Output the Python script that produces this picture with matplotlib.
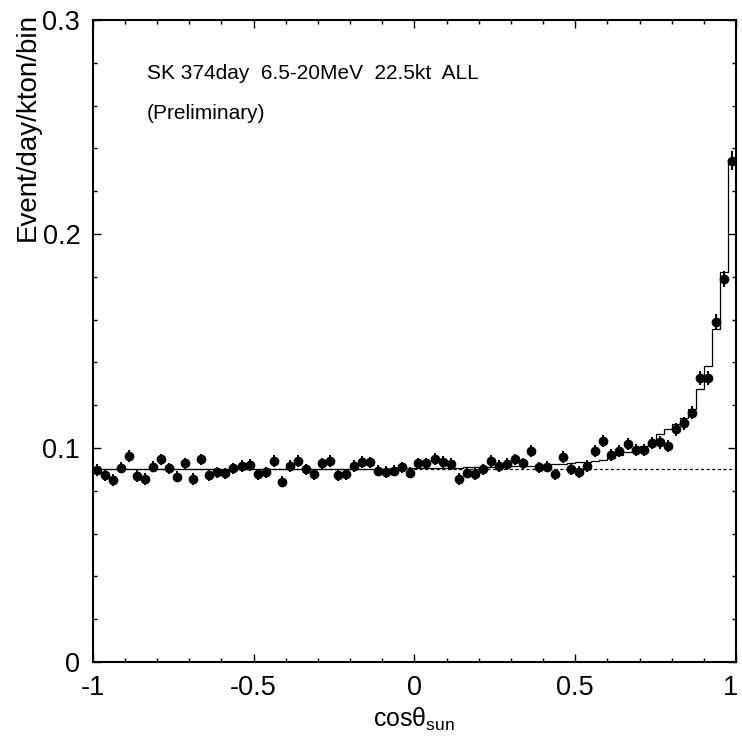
import matplotlib
matplotlib.use("Agg")
import matplotlib.pyplot as plt
import matplotlib.transforms as mtransforms
import numpy as np

plt.rcParams["font.family"] = ["Liberation Sans", "DejaVu Sans"]
plt.rcParams["axes.unicode_minus"] = False
plt.rcParams["mathtext.fontset"] = "custom"
plt.rcParams["mathtext.rm"] = "Liberation Sans"
plt.rcParams["mathtext.it"] = "Liberation Sans"

# 80 bins in cos(theta_sun), -1 .. 1
bin_edges = np.linspace(-1, 1, 81)
bin_centers = 0.5 * (bin_edges[:-1] + bin_edges[1:])

# observed event rate (event/day/kton/bin)
observed = [
    0.0897, 0.0874, 0.0850, 0.0908, 0.0963, 0.0869, 0.0855, 0.0913, 0.0947, 0.0905,
    0.0866, 0.0928, 0.0855, 0.0947, 0.0874, 0.0886, 0.0882, 0.0905, 0.0917, 0.0921,
    0.0877, 0.0886, 0.0939, 0.0843, 0.0916, 0.0939, 0.0900, 0.0877, 0.0928, 0.0939,
    0.0874, 0.0877, 0.0916, 0.0936, 0.0933, 0.0894, 0.0889, 0.0894, 0.0910, 0.0885,
    0.0928, 0.0928, 0.0949, 0.0936, 0.0925, 0.0855, 0.0885, 0.0879, 0.0900, 0.0939,
    0.0916, 0.0925, 0.0947, 0.0928, 0.0986, 0.0910, 0.0913, 0.0877, 0.0958, 0.0903,
    0.0889, 0.0916, 0.0988, 0.1034, 0.0967, 0.0987, 0.1019, 0.0991, 0.0991, 0.1024,
    0.1026, 0.1009, 0.1088, 0.1116, 0.1166, 0.1326, 0.1326, 0.1590, 0.1790, 0.2343,
]

errors = [
    0.0027, 0.0027, 0.0027, 0.0027, 0.0027, 0.0027, 0.0027, 0.0027, 0.0027, 0.0027,
    0.0027, 0.0027, 0.0027, 0.0027, 0.0027, 0.0027, 0.0027, 0.0027, 0.0027, 0.0027,
    0.0027, 0.0027, 0.0027, 0.0027, 0.0027, 0.0027, 0.0027, 0.0027, 0.0027, 0.0027,
    0.0027, 0.0027, 0.0027, 0.0027, 0.0027, 0.0027, 0.0027, 0.0027, 0.0027, 0.0027,
    0.0027, 0.0027, 0.0027, 0.0027, 0.0027, 0.0027, 0.0027, 0.0027, 0.0027, 0.0027,
    0.0027, 0.0027, 0.0027, 0.0027, 0.0027, 0.0027, 0.0027, 0.0027, 0.0027, 0.0027,
    0.0027, 0.0027, 0.0028, 0.0028, 0.0028, 0.0028, 0.0028, 0.0028, 0.0028, 0.0028,
    0.0029, 0.0029, 0.0030, 0.0030, 0.0030, 0.0032, 0.0032, 0.0035, 0.0038, 0.0046,
]

# expected (background + solar signal) histogram
expected = [
    0.0902, 0.0902, 0.0902, 0.0902, 0.0902, 0.0902, 0.0902, 0.0902, 0.0902, 0.0902,
    0.0902, 0.0902, 0.0902, 0.0902, 0.0902, 0.0902, 0.0902, 0.0902, 0.0902, 0.0902,
    0.0902, 0.0902, 0.0902, 0.0902, 0.0902, 0.0902, 0.0902, 0.0902, 0.0902, 0.0902,
    0.0902, 0.0902, 0.0903, 0.0903, 0.0903, 0.0904, 0.0904, 0.0905, 0.0905, 0.0906,
    0.0906, 0.0907, 0.0907, 0.0908, 0.0909, 0.0909, 0.0910, 0.0911, 0.0912, 0.0913,
    0.0914, 0.0915, 0.0916, 0.0917, 0.0918, 0.0919, 0.0921, 0.0924, 0.0927, 0.0930,
    0.0933, 0.0936, 0.0940, 0.0946, 0.0955, 0.0967, 0.0983, 0.0994, 0.1009, 0.1030,
    0.1065, 0.1087, 0.1111, 0.1139, 0.1181, 0.1274, 0.1383, 0.1555, 0.1824, 0.2350,
]

background = 0.0902

fig = plt.figure(figsize=(7.42, 7.43), dpi=100)
ax = fig.add_axes([0.125, 0.109, 0.867, 0.864])

ax.axhline(background, color="black", lw=0.9, dashes=(2.5, 2))
ax.stairs(expected, bin_edges, baseline=None, color="black", lw=0.9)
ax.errorbar(bin_centers, observed, yerr=errors, fmt="o", color="black",
            ms=6, elinewidth=1.4, capsize=0)

ax.set_xlim(-1, 1)
ax.set_ylim(0, 0.3)
ax.set_xticks([-1, -0.5, 0, 0.5, 1])
ax.set_xticklabels(["-1", "-0.5", "0", "0.5", "1"])
ax.set_xticks(np.arange(-1, 1.0001, 0.1), minor=True)
ax.set_yticks([0, 0.1, 0.2, 0.3])
ax.set_yticklabels(["0", "0.1", "0.2", "0.3"])
ax.set_yticks(np.arange(0, 0.3001, 0.02), minor=True)
ax.tick_params(which="both", direction="in", top=True, right=True,
               labelsize=19.5, width=1)
ax.tick_params(which="major", length=6)
ax.tick_params(which="minor", length=3)
ax.tick_params(axis="x", which="major", pad=9)
ax.tick_params(axis="y", which="major", pad=9)
for s in ax.spines.values():
    s.set_linewidth(1.5)

# last x tick label sits on the figure edge, nudge it in a bit
last = ax.get_xticklabels()[-1]
last.set_transform(last.get_transform()
                   + mtransforms.ScaledTranslation(-4 / 72, 0, fig.dpi_scale_trans))

ax.set_xlabel(r"cos$\theta_{\mathrm{sun}}$", fontsize=18, labelpad=4)
fig.text(28 / 742, 1 - 127 / 743, "Event/day/kton/bin", fontsize=20,
         rotation=90, ha="center", va="center")

ax.text(0.084, 0.917, "SK 374day  6.5-20MeV  22.5kt  ALL",
        transform=ax.transAxes, fontsize=15, va="center", ha="left")
ax.text(0.084, 0.855, "(Preliminary)",
        transform=ax.transAxes, fontsize=15, va="center", ha="left")

fig.savefig("out.png", dpi=100)
